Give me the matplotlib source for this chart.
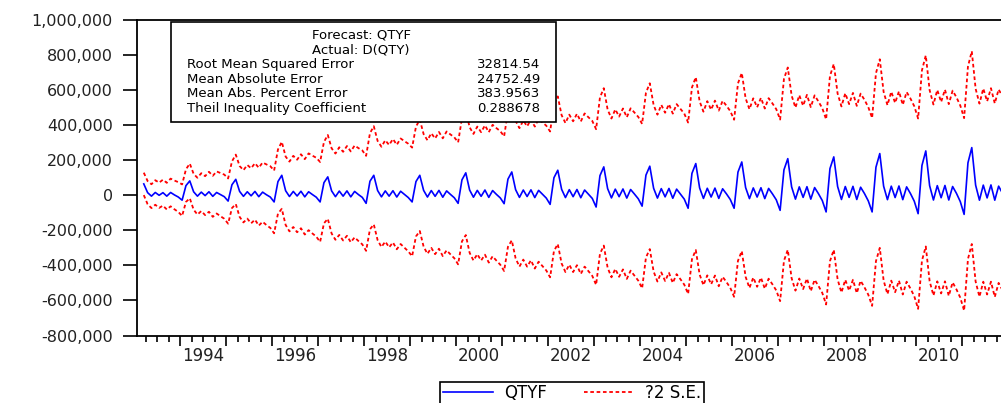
import numpy as np
import matplotlib.pyplot as plt
from matplotlib.patches import Rectangle
import matplotlib.transforms as mtransforms

# forecast QTYF in thousands, one row per year (series starts 1993M3)
first_year = 1993
first_month = 3
qtyf_k = [
    [65, 15, -5, 16, 0, 15, -5, 16, 2, -10],                         # 1993
    [-28, 55, 82, 20, -5, 18, -2, 20, -6, 16, 4, -8],                # 1994
    [-33, 60, 91, 22, -6, 20, -3, 22, -8, 18, 3, -10],               # 1995
    [-38, 78, 114, 26, -7, 22, -4, 23, -9, 20, 4, -11],              # 1996
    [-38, 72, 105, 25, -8, 24, -5, 25, -9, 22, 4, -12],              # 1997
    [-46, 80, 114, 27, -9, 25, -5, 26, -10, 23, 5, -13],             # 1998
    [-38, 78, 114, 28, -10, 27, -6, 28, -11, 25, 5, -14],            # 1999
    [-46, 88, 128, 30, -11, 28, -6, 30, -12, 27, 5, -15],            # 2000
    [-48, 92, 133, 32, -12, 30, -7, 31, -13, 28, 6, -16],            # 2001
    [-52, 100, 143, 34, -13, 32, -8, 33, -14, 30, 6, -18],           # 2002
    [-67, 112, 162, 38, -15, 35, -8, 36, -16, 33, 7, -20],           # 2003
    [-62, 115, 166, 40, -16, 38, -9, 39, -17, 35, 7, -22],           # 2004
    [-74, 125, 181, 42, -18, 40, -10, 41, -18, 37, 8, -24],          # 2005
    [-74, 132, 190, 44, -19, 42, -10, 43, -19, 39, 8, -26],          # 2006
    [-86, 145, 209, 48, -22, 48, -12, 49, -22, 44, 9, -30],          # 2007
    [-95, 152, 219, 50, -24, 50, -12, 51, -24, 46, 10, -32],         # 2008
    [-95, 160, 238, 52, -25, 52, -13, 53, -25, 48, 10, -34],         # 2009
    [-105, 170, 253, 55, -27, 55, -14, 56, -27, 50, 11, -36],        # 2010
    [-109, 185, 272, 58, -28, 58, -15, 59, -28, 52, 12, -38],        # 2011
]

# 2 x forecast S.E. in thousands, same layout
two_se_k = [
    [64, 66, 68, 70, 72, 74, 76, 79, 82, 85],
    [90, 93, 99, 102, 105, 108, 111, 114, 117, 120, 123, 126],
    [129, 133, 141, 145, 149, 153, 157, 161, 165, 169, 173, 176],
    [179, 183, 191, 195, 199, 203, 207, 211, 215, 219, 222, 225],
    [228, 232, 239, 243, 246, 250, 253, 256, 259, 262, 265, 268],
    [271, 274, 280, 283, 286, 289, 292, 295, 298, 301, 304, 307],
    [310, 313, 318, 321, 324, 327, 330, 333, 336, 339, 342, 345],
    [348, 351, 355, 358, 361, 364, 366, 369, 372, 375, 378, 381],
    [384, 386, 390, 392, 395, 397, 400, 402, 405, 407, 410, 413],
    [416, 418, 421, 423, 425, 428, 430, 432, 435, 437, 439, 442],
    [444, 446, 449, 451, 453, 455, 457, 459, 461, 463, 465, 467],
    [469, 470, 473, 475, 476, 478, 480, 481, 483, 485, 486, 488],
    [489, 490, 493, 494, 495, 497, 498, 499, 501, 502, 503, 504],
    [505, 506, 508, 509, 510, 511, 512, 513, 514, 515, 516, 517],
    [518, 519, 520, 521, 522, 523, 523, 524, 525, 526, 526, 527],
    [528, 528, 530, 530, 531, 532, 532, 533, 534, 534, 535, 535],
    [536, 536, 538, 538, 539, 539, 540, 540, 541, 541, 542, 542],
    [543, 543, 545, 545, 545, 546, 546, 547, 547, 547, 548, 548],
    [549, 549, 550, 550, 551, 551, 551, 552, 552, 552, 553, 553],
]

year_labels = [1994, 1996, 1998, 2000, 2002, 2004, 2006, 2008, 2010]
stat_names = ["Root Mean Squared Error", "Mean Absolute Error",
              "Mean Abs. Percent Error", "Theil Inequality Coefficient"]
stat_values = ["32814.54", "24752.49", "383.9563", "0.288678"]
box_title = ["Forecast: QTYF", "Actual: D(QTY)"]

# build series
fc = np.concatenate([np.array(r, float) for r in qtyf_k]) * 1000
se2 = np.concatenate([np.array(r, float) for r in two_se_k]) * 1000
dates = []
for i, row in enumerate(qtyf_k):
    m0 = first_month if i == 0 else 1
    dates += [first_year + i + (m0 + k - 0.5) / 12 for k in range(len(row))]
dates = np.array(dates)

W, H = 1001, 403
fig = plt.figure(figsize=(W / 100, H / 100), dpi=100)


def fx(px):
    return px / W


def fy(py):
    return 1 - py / H


x0, x1 = 1993.05, 2012.05
ax = fig.add_axes([fx(136.5), fy(335.5), fx((x1 - x0) * 46), (335.5 - 20) / H])

ax.plot(dates, fc, color='#0000ff', lw=1.2, label='QTYF')
ax.plot(dates, fc + se2, color='#ff0000', lw=1.3, dashes=(2, 1.5), label='?2 S.E.')
ax.plot(dates, fc - se2, color='#ff0000', lw=1.3, dashes=(2, 1.5))

ax.set_xlim(x0, x1)
ax.set_ylim(-800000, 1000000)

yt = np.arange(-800000, 1000001, 200000)
ax.set_yticks(yt)
ax.set_yticklabels([f"{v:,}" for v in yt])
ax.tick_params(axis='y', length=10, width=1.2, pad=7, labelsize=11.5, labelcolor='#222222')

ax.set_xticks(np.arange(1994, 2012))
ax.set_xticks(np.arange(1993.25, 2012, 0.25), minor=True)
ax.tick_params(axis='x', which='major', length=7, width=1.2, labelbottom=False)
ax.tick_params(axis='x', which='minor', length=4, width=1.2)
trans = mtransforms.blended_transform_factory(ax.transData, ax.transAxes)
for yr in year_labels:
    ax.text(yr + 0.5, -0.064, str(yr), transform=trans, ha='center', va='center',
            fontsize=12, color='#222222')

for s in ['left', 'bottom', 'top']:
    ax.spines[s].set_linewidth(1.3)
ax.spines['right'].set_visible(False)

# statistics box
fig.add_artist(Rectangle((fx(171), fy(122)), fx(556 - 171), (122 - 22) / H,
                         transform=fig.transFigure, facecolor='white',
                         edgecolor='black', lw=1.2, zorder=5))
for i, t in enumerate(box_title):
    fig.text(fx(361), fy(35 + 14.7 * i), t, ha='center', va='center',
             fontsize=9.5, zorder=6)
for i, (n, v) in enumerate(zip(stat_names, stat_values)):
    yy = fy(35 + 14.7 * (i + 2))
    fig.text(fx(187), yy, n, ha='left', va='center', fontsize=9.5, zorder=6)
    fig.text(fx(540), yy, v, ha='right', va='center', fontsize=9.5, zorder=6)

# legend below the plot
handles, labels = ax.get_legend_handles_labels()
leg = fig.legend(handles, labels, loc='upper center', bbox_to_anchor=(fx(572), fy(381.7)),
                 ncol=2, frameon=True, fancybox=False, edgecolor='black', framealpha=1,
                 fontsize=12, handlelength=3.0, handletextpad=0.7, columnspacing=2.2,
                 borderpad=0.15, borderaxespad=0)
leg.get_frame().set_linewidth(1.2)

fig.savefig('out.png', dpi=100)
